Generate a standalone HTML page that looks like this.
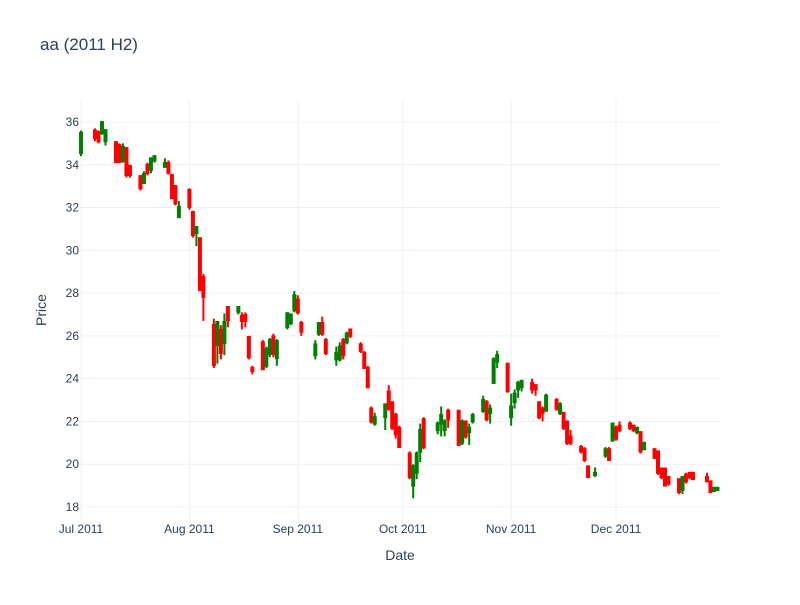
<!DOCTYPE html>
<html><head><meta charset="utf-8"><style>
body{margin:0;background:#fff;font-family:"Liberation Sans",sans-serif;}
svg text{font-family:"Liberation Sans",sans-serif;fill:#2a3f5f;}
</style></head><body>
<svg id="chart" width="800" height="600" xmlns="http://www.w3.org/2000/svg">
<rect width="800" height="600" fill="#fff"/>
<text x="40" y="50" font-size="17">aa (2011 H2)</text>
<g id="grid"></g>
<g id="candles"></g>
<g id="ticks"></g>
<text x="400" y="560" font-size="14" text-anchor="middle">Date</text>
<text x="46" y="310" font-size="14" text-anchor="middle" transform="rotate(-90 46 310)">Price</text>
</svg>
<script>
const dates=["2011-07-01","2011-07-05","2011-07-06","2011-07-07","2011-07-08","2011-07-11","2011-07-12","2011-07-13","2011-07-14","2011-07-15","2011-07-18","2011-07-19","2011-07-20","2011-07-21","2011-07-22","2011-07-25","2011-07-26","2011-07-27","2011-07-28","2011-07-29","2011-08-01","2011-08-02","2011-08-03","2011-08-04","2011-08-05","2011-08-08","2011-08-09","2011-08-10","2011-08-11","2011-08-12","2011-08-15","2011-08-16","2011-08-17","2011-08-18","2011-08-19","2011-08-22","2011-08-23","2011-08-24","2011-08-25","2011-08-26","2011-08-29","2011-08-30","2011-08-31","2011-09-01","2011-09-02","2011-09-06","2011-09-07","2011-09-08","2011-09-09","2011-09-12","2011-09-13","2011-09-14","2011-09-15","2011-09-16","2011-09-19","2011-09-20","2011-09-21","2011-09-22","2011-09-23","2011-09-26","2011-09-27","2011-09-28","2011-09-29","2011-09-30","2011-10-03","2011-10-04","2011-10-05","2011-10-06","2011-10-07","2011-10-11","2011-10-12","2011-10-13","2011-10-14","2011-10-17","2011-10-18","2011-10-19","2011-10-20","2011-10-21","2011-10-24","2011-10-25","2011-10-26","2011-10-27","2011-10-28","2011-10-31","2011-11-01","2011-11-02","2011-11-03","2011-11-04","2011-11-07","2011-11-08","2011-11-09","2011-11-10","2011-11-11","2011-11-14","2011-11-15","2011-11-16","2011-11-17","2011-11-18","2011-11-21","2011-11-22","2011-11-23","2011-11-25","2011-11-28","2011-11-29","2011-11-30","2011-12-01","2011-12-02","2011-12-05","2011-12-06","2011-12-07","2011-12-08","2011-12-09","2011-12-12","2011-12-13","2011-12-14","2011-12-15","2011-12-16","2011-12-19","2011-12-20","2011-12-21","2011-12-22","2011-12-23","2011-12-27","2011-12-28","2011-12-29","2011-12-30"];
const opens=[34.55,35.6,35.53,35.48,35.1,35.06,34.92,34.17,34.78,33.94,33.47,33.14,33.99,33.76,34.2,33.9,34.08,33.52,33.0,31.56,32.82,31.79,30.81,30.57,28.75,26.51,25.57,26.28,25.66,27.35,27.12,26.93,26.98,25.95,24.5,25.7,24.6,25.15,25.97,24.96,26.41,26.6,27.2,27.7,26.6,25.1,26.1,26.6,25.8,24.9,24.9,25.8,25.7,26.3,25.6,25.2,24.5,22.6,21.9,22.2,23.4,22.9,22.3,21.7,20.5,19.0,19.6,20.6,22.1,21.6,21.9,21.6,22.5,22.5,21.0,22.0,21.5,22.0,22.5,22.9,22.4,23.8,24.8,24.7,22.2,22.9,23.5,23.6,23.8,23.7,22.9,22.6,22.5,23.0,22.4,22.4,22.0,21.3,20.8,20.7,19.9,19.5,20.4,20.7,21.1,21.7,21.8,21.9,21.8,21.5,21.5,20.7,20.7,20.6,19.8,19.8,19.4,19.3,18.8,19.5,19.6,19.6,19.4,19.2,18.75,18.8];
const highs=[35.6,35.7,35.6,36.05,35.65,35.1,35.0,35.0,34.8,34.0,33.5,33.7,34.1,34.35,34.45,34.3,34.2,33.55,33.05,32.3,32.9,31.85,31.1,30.6,28.9,26.8,26.7,26.5,27.05,27.35,27.4,27.1,27.1,26.0,24.6,25.8,25.5,25.9,26.1,25.85,27.1,27.05,28.1,27.9,26.7,25.8,26.65,26.9,25.9,25.5,25.7,25.9,26.2,26.3,25.7,25.3,24.6,22.7,22.4,22.8,23.7,22.9,22.4,21.8,20.6,20.0,20.6,21.9,22.2,22.0,22.7,22.1,22.6,22.5,22.1,22.0,21.9,22.4,23.2,23.0,22.8,25.0,25.3,24.7,23.3,23.5,23.9,23.9,24.0,23.7,22.9,22.7,23.3,23.1,22.9,22.4,22.0,21.6,20.9,20.8,19.9,19.85,20.8,20.8,21.95,21.8,22.0,22.0,21.85,21.75,21.5,21.05,20.75,20.6,19.8,19.8,19.4,19.3,19.45,19.6,19.6,19.6,19.6,19.2,18.9,18.9];
const lows=[34.4,35.1,35.0,35.4,34.9,34.1,34.1,34.1,33.4,33.4,32.8,33.1,33.5,33.6,34.1,33.9,33.55,32.4,32.1,31.5,31.9,30.6,30.2,28.1,26.7,24.5,24.7,24.9,25.1,26.4,27.0,26.3,26.4,24.9,24.2,24.4,24.5,25.0,25.0,24.6,26.3,26.5,27.1,27.0,26.0,24.9,26.0,26.0,25.1,24.6,24.8,24.9,25.6,25.9,25.2,24.45,23.55,21.9,21.8,21.6,22.5,21.6,21.2,20.8,19.3,18.4,19.3,20.1,20.7,21.4,21.3,21.3,21.7,20.9,20.9,21.2,20.9,21.9,22.4,22.0,21.9,23.8,24.5,23.4,21.8,22.6,23.1,23.4,23.3,23.2,22.1,22.0,22.5,22.5,22.3,21.6,20.9,20.9,20.5,20.1,19.35,19.4,20.3,20.2,21.1,21.1,21.5,21.6,21.5,21.4,20.5,20.7,20.25,19.5,19.3,19.0,19.0,18.6,18.6,19.1,19.3,19.3,19.15,18.65,18.7,18.75];
const closes=[35.49,35.25,35.1,35.99,35.62,34.13,34.13,34.83,33.52,33.52,32.9,33.57,33.61,34.3,34.4,34.08,33.61,32.44,32.2,32.03,32.03,30.71,31.09,28.14,27.82,24.64,26.65,25.2,26.65,26.74,27.35,26.7,26.7,25.0,24.36,24.44,25.38,25.8,25.15,25.76,27.06,27.0,27.9,27.1,26.2,25.6,26.6,26.1,25.2,25.2,25.5,25.1,26.1,26.0,25.3,24.5,23.6,22.0,22.2,22.8,22.6,21.7,21.4,20.8,19.4,19.9,20.5,21.6,20.8,21.9,22.3,22.0,22.1,20.9,22.0,21.3,21.7,22.3,23.0,22.1,22.6,24.9,25.1,23.4,22.7,23.3,23.8,23.9,23.5,23.5,22.2,22.4,23.2,22.6,22.8,21.7,21.0,21.0,20.6,20.2,19.4,19.6,20.7,20.2,21.9,21.2,21.6,21.7,21.6,21.7,20.6,21.0,20.3,19.6,19.4,19.0,19.1,18.7,19.4,19.2,19.4,19.3,19.2,18.7,18.9,18.9];
const yTicks=[18,20,22,24,26,28,30,32,34,36];
const xTickDates=["2011-07-01","2011-08-01","2011-09-01","2011-10-01","2011-11-01","2011-12-01"];
const xTickLabels=["Jul 2011","Aug 2011","Sep 2011","Oct 2011","Nov 2011","Dec 2011"];

const NS="http://www.w3.org/2000/svg";
const t0=Date.UTC(2011,6,1);
function xScale(d){const p=d.split("-");const t=Date.UTC(+p[0],+p[1]-1,+p[2]);return 81+(t-t0)/86400000*3.497;}
function yScale(v){return 507-(v-18)*21.39;}
function mk(tag,attrs,parent){const e=document.createElementNS(NS,tag);for(const k in attrs)e.setAttribute(k,attrs[k]);parent.appendChild(e);return e;}
const grid=document.getElementById("grid"),ticks=document.getElementById("ticks"),cg=document.getElementById("candles");
yTicks.forEach(v=>{
  const y=yScale(v);
  const l=mk("line",{x1:80,x2:720,y1:y,y2:y,stroke:"#ebf0f8","stroke-width":1},grid);
  
  
  const t=mk("text",{x:79,y:y+4,"font-size":12,"text-anchor":"end"},ticks);
  t.textContent=v;
  
  
});
xTickDates.forEach((d,i)=>{
  const x=xScale(d);
  const l=mk("line",{x1:x,x2:x,y1:100,y2:520,stroke:"#ebf0f8","stroke-width":1},grid);
  
  
  const t=mk("text",{x:x,y:533,"font-size":12,"text-anchor":"middle"},ticks);
  t.textContent=xTickLabels[i];
  
  
});
dates.forEach((d,i)=>{
  const x=xScale(d),up=closes[i]>=opens[i],col=up?"#008000":"#ff0000";
  const g=mk("g",{},cg);
  
  
  mk("line",{x1:x,x2:x,y1:yScale(highs[i]),y2:yScale(lows[i]),stroke:col,"stroke-width":2},g);
  const top=yScale(Math.max(opens[i],closes[i])),bot=yScale(Math.min(opens[i],closes[i]));
  mk("rect",{x:x-2,y:top-1,width:4,height:Math.max(bot-top,0)+2,fill:col},g);
});
</script>
</body></html>
